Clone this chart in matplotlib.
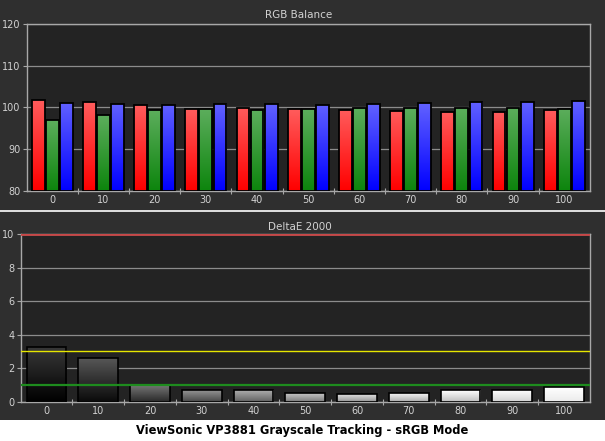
import numpy as np
import matplotlib.pyplot as plt
from matplotlib.patches import Rectangle

# data
stimulus = ["0", "10", "20", "30", "40", "50", "60", "70", "80", "90", "100"]
red = [101.9, 101.3, 100.5, 99.6, 99.9, 99.6, 99.5, 99.2, 99.0, 98.9, 99.3]
green = [97.0, 98.1, 99.4, 99.6, 99.4, 99.6, 99.8, 99.8, 99.9, 99.9, 99.75]
blue = [101.1, 100.9, 100.6, 100.8, 100.8, 100.6, 100.8, 101.0, 101.4, 101.4, 101.6]
delta_e = [3.24, 2.59, 0.97, 0.68, 0.68, 0.50, 0.46, 0.50, 0.68, 0.68, 0.86]
gray_level = [0.0, 0.12, 0.24, 0.36, 0.46, 0.56, 0.66, 0.74, 0.82, 0.9, 1.0]
limits = [(10, "#c84848", 2.0), (3, "#e6e600", 1.0), (1, "#1e8c1e", 1.6)]

FIG_BG = "#2f2f2f"
AX_BG = "#232323"
GRID = "#8c8c8c"
SPINE = "#a8a8a8"
TXT = "#d2d2d2"


def gradient_bar(ax, patch, top_rgb, bot_rgb):
    # paint a vertical gradient inside a bar patch
    x, y = patch.get_x(), patch.get_y()
    w, h = patch.get_width(), patch.get_height()
    n = 64
    t = np.linspace(0, 1, n)[:, None]
    top = np.array(top_rgb)
    bot = np.array(bot_rgb)
    img = (top * (1 - t) + bot * t).reshape(n, 1, 3)
    im = ax.imshow(np.clip(img, 0, 1), extent=(x, x + w, y, y + h), aspect="auto",
                   origin="upper", zorder=2, interpolation="bilinear")
    im.set_clip_path(patch)


def style_axes(ax):
    ax.set_facecolor(AX_BG)
    for s in ax.spines.values():
        s.set_color(SPINE)
        s.set_linewidth(1.0)
    ax.tick_params(axis="both", which="major", colors=SPINE, labelcolor=TXT,
                   labelsize=7, length=3, width=0.8, pad=1.5)
    ax.tick_params(axis="x", which="major", length=0, pad=3)
    ax.tick_params(axis="x", which="minor", colors=SPINE, length=4, width=0.8,
                   direction="inout")
    ax.yaxis.grid(True, color=GRID, linewidth=0.9)
    ax.set_axisbelow(True)


fig = plt.figure(figsize=(6.05, 4.41), dpi=100, facecolor=FIG_BG)
x = np.arange(len(stimulus))

# --- RGB balance ---
ax1 = fig.add_axes([0.0441, 0.5669, 0.9309, 0.3787])
style_axes(ax1)
bw = 0.25
colors = [((1, 0.36, 0.36), (1, 0.0, 0.0)),
          ((0.36, 0.68, 0.36), (0.05, 0.52, 0.05)),
          ((0.38, 0.38, 1.0), (0.0, 0.0, 1.0))]
for off, vals, (ctop, cbot) in zip([-0.275, 0, 0.275], [red, green, blue], colors):
    bars = ax1.bar(x + off, np.array(vals) - 80, bw, bottom=80, facecolor="none",
                   edgecolor="black", linewidth=1.3, zorder=3)
    for b in bars:
        gradient_bar(ax1, b, ctop, cbot)
ax1.set_xlim(-0.5, 10.5)
ax1.set_ylim(80, 120)
ax1.set_yticks([80, 90, 100, 110, 120])
ax1.set_xticks(x)
ax1.set_xticklabels(stimulus)
ax1.set_xticks(x[:-1] + 0.5, minor=True)
ax1.set_title("RGB Balance", color=TXT, fontsize=7.5, pad=4, x=0.482)

# --- DeltaE 2000 ---
ax2 = fig.add_axes([0.0342, 0.0891, 0.9408, 0.3803])
style_axes(ax2)
bars = ax2.bar(x, delta_e, 0.77, facecolor="none", edgecolor="black",
               linewidth=1.2, zorder=3)
for b, g in zip(bars, gray_level):
    top = [min(g + 0.22, 1.0)] * 3
    bot = [max(g - 0.08, 0.0)] * 3
    gradient_bar(ax2, b, top, bot)
for val, col, lw in limits:
    ax2.axhline(val, color=col, linewidth=lw, zorder=4)
ax2.set_xlim(-0.5, 10.5)
ax2.set_ylim(0, 10)
ax2.set_yticks([0, 2, 4, 6, 8, 10])
ax2.set_xticks(x)
ax2.set_xticklabels(stimulus)
ax2.set_xticks(x[:-1] + 0.5, minor=True)
ax2.set_title("DeltaE 2000", color=TXT, fontsize=7.5, pad=3, x=0.49)

# separator line and white caption strip
fig.add_artist(plt.Line2D([0, 1], [0.5215, 0.5215], color="white", linewidth=1.2,
                          transform=fig.transFigure))
fig.patches.append(Rectangle((0, 0), 1, 0.0476, transform=fig.transFigure,
                             facecolor="white", edgecolor="none", zorder=0))
fig.text(0.5, 0.024, "ViewSonic VP3881 Grayscale Tracking - sRGB Mode",
         ha="center", va="center", fontsize=8.3, fontweight="bold", color="black")

fig.savefig("out.png", dpi=100, facecolor=FIG_BG)
